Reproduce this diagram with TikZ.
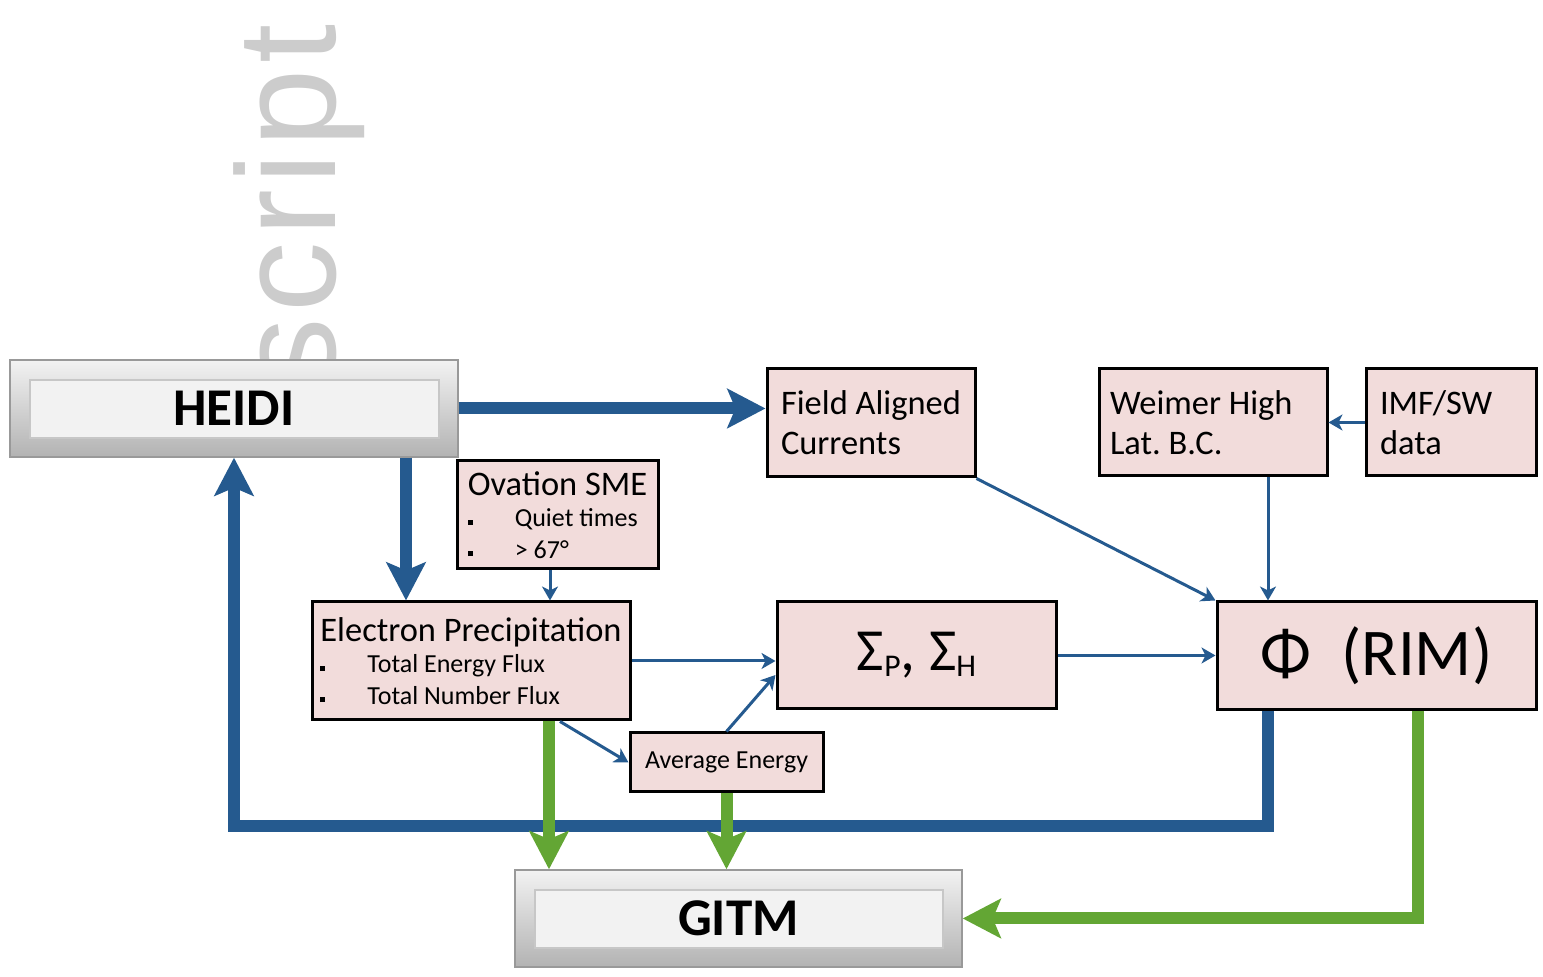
\documentclass[tikz,border=0pt]{standalone}
\usepackage{fontspec}
\setmainfont{Carlito}
\newfontfamily\marcafont[LetterSpace=4]{Liberation Sans}
\usetikzlibrary{arrows.meta}

\newcommand{\vineta}[1]{\makebox[0.47cm][l]{\rule[0.02cm]{0.05cm}{0.05cm}}#1}

\begin{document}
\begin{tikzpicture}[
    caja/.style={draw, line width=0.03cm, fill=cRosa, align=left, inner sep=0pt, font=\fontsize{9.8}{11.4}\selectfont},
    lista/.style={font=\fontsize{7.4}{8.9}\selectfont},
    bisel/.style={draw=black!40, line width=0.4pt, top color=black!5, bottom color=black!30,
        minimum width=4.48cm, minimum height=0.97cm, font=\bfseries\fontsize{15.1}{18}\selectfont,
        path picture={\draw[black!22, fill=black!5]
            ([shift={(0.2cm,-0.2cm)}]path picture bounding box.north west) rectangle
            ([shift={(-0.19cm,0.19cm)}]path picture bounding box.south east);}},
    gruesa/.style={line width=0.12cm, -{Stealth[length=0.38cm, width=0.39cm, inset=0.08cm]}},
    fina/.style={line width=0.03cm, draw=cAzul, -{Stealth[length=0.14cm, width=0.16cm, inset=0.04cm]}}]

\definecolor{cAzul}{HTML}{255A8F}
\definecolor{cVerde}{HTML}{63A634}
\definecolor{cRosa}{HTML}{F2DCDB}

\useasboundingbox (0,0) rectangle (15.43,-9.77);

% marca de agua
\node[rotate=90, anchor=base east, font=\marcafont\fontsize{40}{40}\selectfont, text=black!20] (marca) at (3.35,-0.12) {script};

% modelos
\node[bisel] (heidi) at (2.34,-4.085) {HEIDI};
\node[bisel, minimum width=4.47cm] (gitm) at (7.385,-9.185) {GITM};

% cajas
\node[caja, minimum width=2.08cm, minimum height=1.08cm] (fac) at (8.71,-4.23) {Field Aligned\\Currents};
\node[caja, align=flush left, minimum width=2.28cm, minimum height=1.07cm, text width=2.06cm, inner xsep=0.11cm] (weimer) at (12.13,-4.225) {Weimer High\\Lat.\ B.C.};
\node[caja, align=flush left, minimum width=1.70cm, minimum height=1.07cm, text width=1.42cm, inner xsep=0.14cm] (imf) at (14.51,-4.225) {IMF/SW\\data};
\node[caja, lista, minimum width=2.01cm, minimum height=1.08cm] (ovation) at (5.575,-5.15)
    {{\fontsize{9.8}{11.4}\selectfont Ovation SME}\\\vineta{Quiet times}\\\vineta{> 67°}};
\node[caja, lista, minimum width=3.18cm, minimum height=1.18cm] (elec) at (4.71,-6.61)
    {{\fontsize{9.8}{11.4}\selectfont Electron Precipitation}\\\vineta{Total Energy Flux}\\\vineta{Total Number Flux}};
\node[caja, lista, align=center, minimum width=1.93cm, minimum height=0.59cm] (avg) at (7.265,-7.625) {Average Energy};
\node[caja, align=center, minimum width=2.79cm, minimum height=1.07cm, font=\fontsize{17}{20}\selectfont] (sigma) at (9.165,-6.555)
    {Σ\raisebox{-0.06cm}{\fontsize{9}{9}\selectfont P}, Σ\raisebox{-0.06cm}{\fontsize{9}{9}\selectfont H}};
\node[caja, align=center, minimum width=3.19cm, minimum height=1.08cm, font=\fontsize{19}{22}\selectfont] (phi) at (13.765,-6.56) {Φ~~(RIM)};

% puntos de salida
\coordinate (hS) at ([xshift=1.72cm]heidi.south);
\coordinate (oS) at ([xshift=-0.075cm]ovation.south);
\coordinate (eG) at ([xshift=0.78cm]elec.south);
\coordinate (eA) at ([xshift=0.89cm]elec.south);
\coordinate (wS) at ([xshift=0.55cm]weimer.south);
\coordinate (pB) at ([xshift=-1.085cm]phi.south);
\coordinate (pG) at ([xshift=0.415cm]phi.south);
\coordinate (sB) at ([yshift=-0.195cm]sigma.west);
\coordinate (lazo) at ([yshift=-1.15cm]pB);

% flechas azules gruesas
\draw[gruesa, cAzul] (heidi.east) -- (heidi.east -| fac.west);
\draw[gruesa, cAzul] (hS) -- (hS |- elec.north);
\draw[gruesa, cAzul] (pB) -- (lazo) -| (heidi.south);

% flechas finas
\draw[fina] (oS) -- (oS |- elec.north);
\draw[fina] (fac.south east) -- (phi.north west);
\draw[fina] (wS) -- (wS |- phi.north);
\draw[fina] (imf.west) -- (imf.west -| weimer.east);
\draw[fina] (elec.east) -- (elec.east -| sigma.west);
\draw[fina] (sigma.east) -- (sigma.east -| phi.west);
\draw[fina] (eA) -- (avg.west);
\draw[fina] (avg.north) -- (sB);

% flechas verdes a GITM
\draw[gruesa, cVerde] (eG) -- (eG |- gitm.north);
\draw[gruesa, cVerde] (avg.south) -- (avg.south |- gitm.north);
\draw[gruesa, cVerde] (pG) |- (gitm.east);

\end{tikzpicture}
\end{document}
